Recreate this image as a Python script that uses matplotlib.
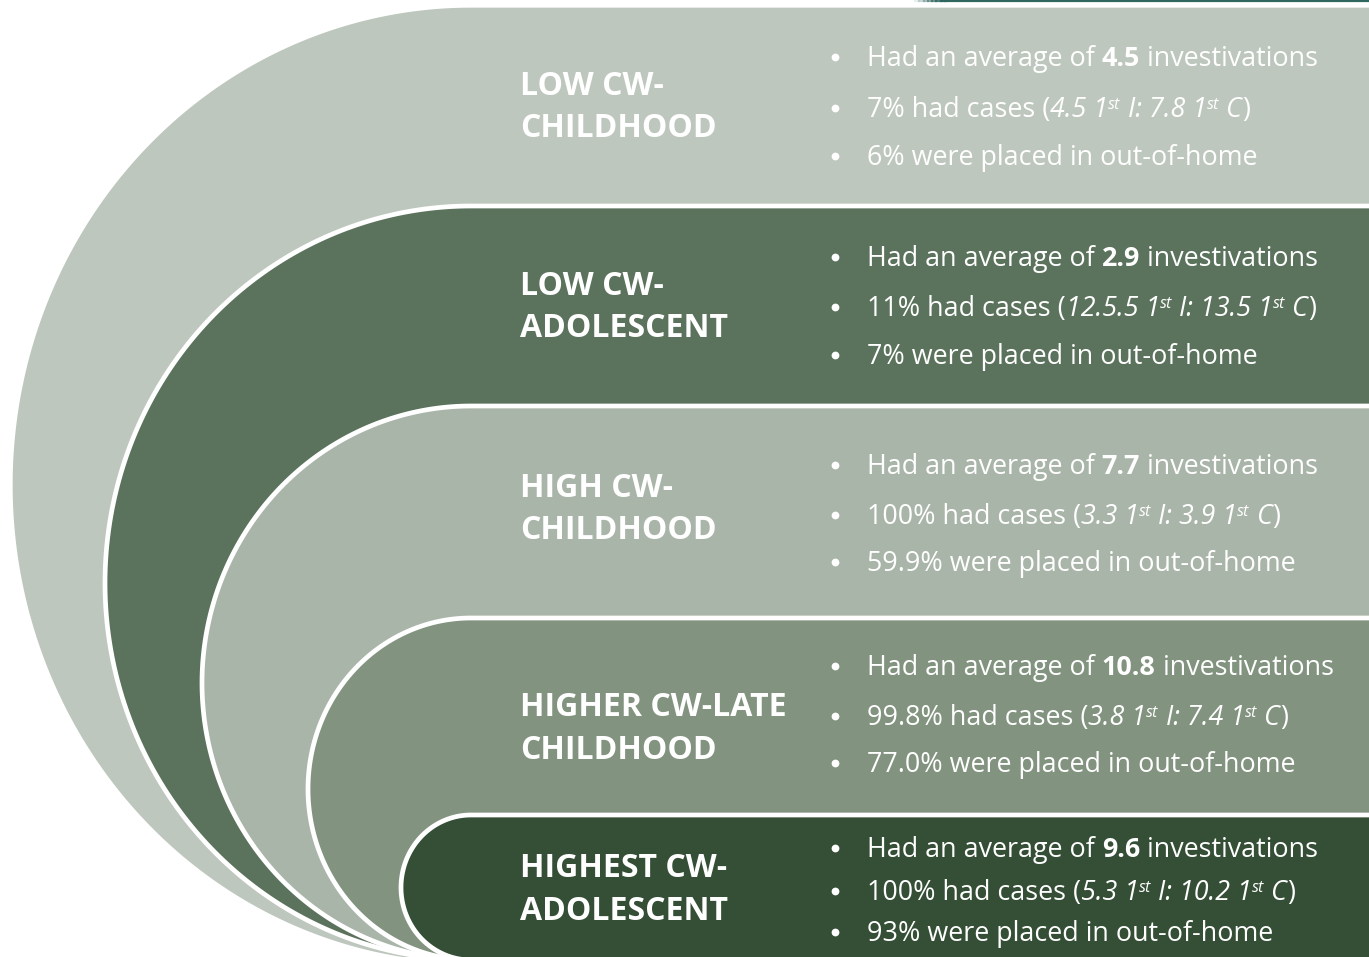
"""Nested arc infographic: child-welfare trajectory groups with summary bullets."""

import matplotlib.pyplot as plt
from matplotlib.path import Path
from matplotlib.patches import PathPatch
import numpy as np

# ------------------------------
# Data
# ------------------------------

group_line1 = ["LOW CW-", "LOW CW-", "HIGH CW-", "HIGHER CW-LATE", "HIGHEST CW-"]
group_line2 = ["CHILDHOOD", "ADOLESCENT", "CHILDHOOD", "CHILDHOOD", "ADOLESCENT"]
avg_invest = ["4.5", "2.9", "7.7", "10.8", "9.6"]
pct_cases = ["7%", "11%", "100%", "99.8%", "100%"]
age_first_inv = ["4.5", "12.5.5", "3.3", "3.8", "5.3"]
age_first_case = ["7.8", "13.5", "3.9", "7.4", "10.2"]
pct_placed = ["6%", "7%", "59.9%", "77.0%", "93%"]

colors = ["#BEC7BD", "#5B735C", "#AAB5A9", "#82947F", "#344F35"]

# ------------------------------
# Layout (pixels)
# ------------------------------

W, H = 1369, 957
cx = 471
bottom = 960
band_top = [10, 206, 406, 618, 815]
left_x = [15, 105, 202, 308, 401]
label_base = [(95, 137), (295, 337), (497, 539), (716, 759), (877, 920)]
bullet_base = [(66, 117, 165), (266, 316, 364), (474, 524, 571),
               (675, 725, 772), (857, 900, 941)]

fig = plt.figure(figsize=(W / 100, H / 100), dpi=100)
ax = fig.add_axes([0, 0, 1, 1])
ax.set_xlim(0, W)
ax.set_ylim(H, 0)
ax.axis("off")

# thin dark rule at the very top right
xs = np.linspace(915, 945, 8)
for a, b, al in zip(xs[:-1], xs[1:], np.linspace(0.1, 1, 7)):
    ax.plot([a, b], [0.8, 0.8], color="#2F6660", lw=1.6, alpha=al)
ax.plot([945, W], [0.8, 0.8], color="#2F6660", lw=1.6)


def band_path(top, xl):
    cy = (top + bottom) / 2
    ry = (bottom - top) / 2
    rx = cx - xl
    t = np.linspace(np.pi / 2, 3 * np.pi / 2, 200)
    ex = cx + rx * np.cos(t)
    ey = cy - ry * np.sin(t)
    pts = list(zip(ex, ey))
    pts += [(cx, bottom + 40), (W + 40, bottom + 40), (W + 40, top), (cx, top)]
    return Path(pts, closed=True)


for i, (top, xl, c) in enumerate(zip(band_top, left_x, colors)):
    ec = c if i == 0 else "white"
    ax.add_patch(PathPatch(band_path(top, xl), facecolor=c, edgecolor=ec,
                           lw=3.4, zorder=1 + i))

renderer = fig.canvas.get_renderer()
FONT = "Open Sans"


def advance(txt, kw):
    a = ax.text(0, 0, txt + "|", **kw)
    b = ax.text(0, 0, "|", **kw)
    w = a.get_window_extent(renderer).width - b.get_window_extent(renderer).width
    a.remove()
    b.remove()
    return w


def rich(x, y, parts, size=19.4):
    for txt, style in parts:
        kw = dict(fontsize=size, color="white", family=FONT, va="baseline",
                  ha="left", zorder=20)
        dy = 0
        if style == "b":
            kw["weight"] = "bold"
        if style in ("i", "s"):
            kw["style"] = "italic"
        if style == "s":
            kw["fontsize"] = size * 0.6
            dy = -8
        ax.text(x, y + dy, txt, **kw)
        x += advance(txt, kw)


for i in range(5):
    l1, l2 = label_base[i]
    ax.text(520, l1, group_line1[i], fontsize=23, weight="bold", color="white",
            family=FONT, va="baseline", zorder=20)
    ax.text(520, l2, group_line2[i], fontsize=23, weight="bold", color="white",
            family=FONT, va="baseline", zorder=20)

    b1, b2, b3 = bullet_base[i]
    for yb in (b1, b2, b3):
        ax.plot(835, yb - 9.5, "o", color="white", ms=5.6, mew=0, zorder=20)

    rich(867, b1, [("Had an average of ", "r"), (avg_invest[i], "b"),
                   (" investivations", "r")])
    rich(867, b2, [(pct_cases[i] + " had cases (", "r"),
                   (age_first_inv[i] + " 1", "i"), ("st", "s"),
                   (" I: " + age_first_case[i] + " 1", "i"), ("st", "s"),
                   (" C", "i"), (")", "r")])
    rich(867, b3, [(pct_placed[i] + " were placed in out-of-home", "r")])

fig.savefig("out.png", dpi=100)
